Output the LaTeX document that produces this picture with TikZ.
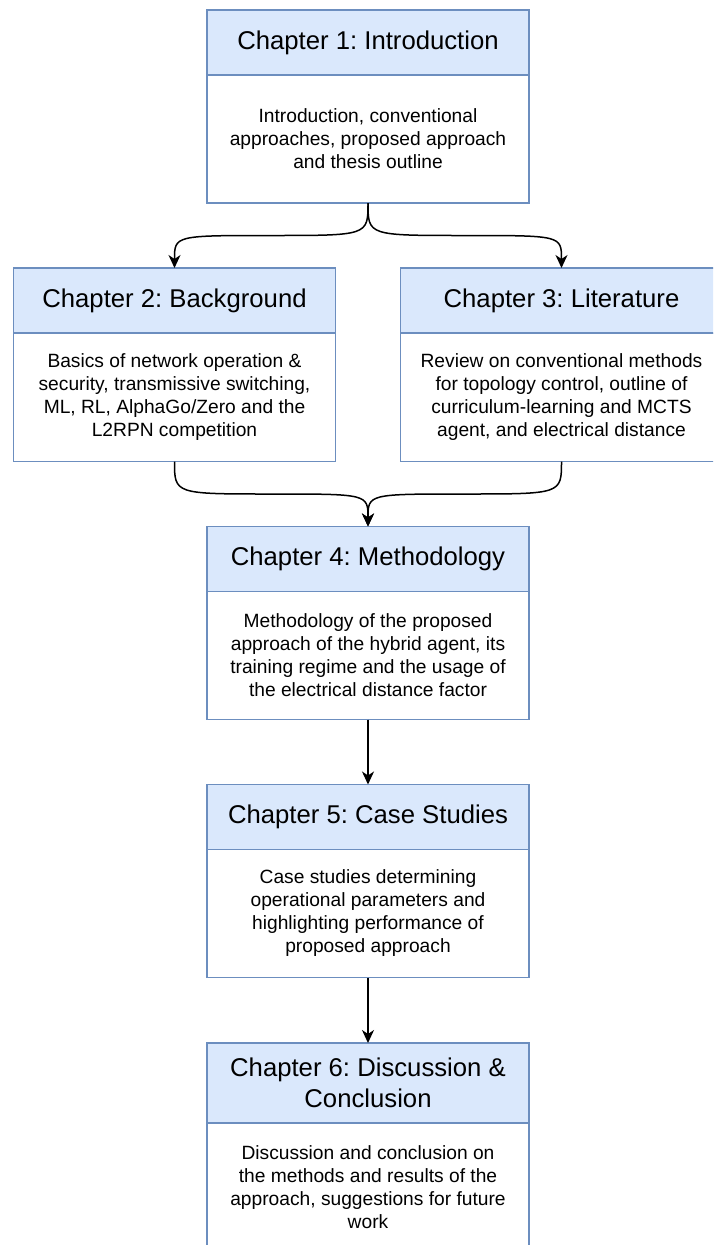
\documentclass[tikz,border=0pt]{standalone}
\usepackage{fontspec}
\setmainfont{Liberation Sans}
\usetikzlibrary{arrows.meta,calc}
\definecolor{hdrfill}{HTML}{DAE8FC}
\definecolor{hdrline}{HTML}{6C8EBF}
\frenchspacing
\begin{document}
\begin{tikzpicture}[x=1pt,y=-1pt,
  box/.style={draw=hdrline, line width=1.3pt, minimum width=322pt,
              inner sep=0pt, outer sep=0pt, align=center},
  head/.style={box, fill=hdrfill, minimum height=65pt,
               font=\fontsize{25.7}{30.8}\selectfont},
  body/.style={box, fill=white, minimum height=128pt,
               font=\fontsize{19.2}{23}\selectfont},
  link/.style={line width=1.5pt, -{Stealth[length=13pt,width=12pt,inset=4pt]}}]
\clip (0,0) rectangle (713,1245);
\fill[white] (0,0) rectangle (713,1245);

% Chapter 1
\node[head] (h1) at (368,42.5) {Chapter 1: Introduction};
\node[body] (b1) at (368,139) {Introduction, conventional\\approaches, proposed approach\\and thesis outline};

% Chapter 2
\node[head] (h2) at (174.5,300.5) {Chapter 2: Background};
\node[body] (b2) at (174.5,397.5) {Basics of network operation \&\\security, transmissive switching,\\ML, RL, AlphaGo/Zero and the\\L2RPN competition};

% Chapter 3
\node[head] (h3) at (561.5,300.5) {Chapter 3: Literature};
\node[body] (b3) at (561.5,397.5) {Review on conventional methods\\for topology control, outline of\\curriculum-learning and MCTS\\agent, and electrical distance};

% Chapter 4
\node[head] (h4) at (368,559) {Chapter 4: Methodology};
\node[body] (b4) at (368,655.5) {Methodology of the proposed\\approach of the hybrid agent, its\\training regime and the usage of\\the electrical distance factor};

% Chapter 5
\node[head] (h5) at (368,817) {Chapter 5: Case Studies};
\node[body] (b5) at (368,913.5) {Case studies determining\\operational parameters and\\highlighting performance of\\proposed approach};

% Chapter 6
\node[head, minimum height=80pt] (h6) at (368,1083) {Chapter 6: Discussion \&\\Conclusion};
\node[body, minimum height=129pt] (b6) at (368,1187.5) {Discussion and conclusion on\\the methods and results of the\\approach, suggestions for future\\work};

% curved links: Chapter 1 splits, Chapters 2 and 3 merge
\coordinate (m12) at ($(b1.south)!0.5!(h2.north)$);
\coordinate (m13) at ($(b1.south)!0.5!(h3.north)$);
\coordinate (m24) at ($(b2.south)!0.5!(h4.north)$);
\coordinate (m34) at ($(b3.south)!0.5!(h4.north)$);
\draw[link] (b1.south) .. controls (b1.south |- m12) .. (m12)
            .. controls (h2.north |- m12) .. (h2.north);
\draw[link] (b1.south) .. controls (b1.south |- m13) .. (m13)
            .. controls (h3.north |- m13) .. (h3.north);
\draw[link] (b2.south) .. controls (b2.south |- m24) .. (m24)
            .. controls (h4.north |- m24) .. (h4.north);
\draw[link] (b3.south) .. controls (b3.south |- m34) .. (m34)
            .. controls (h4.north |- m34) .. (h4.north);

% straight links
\draw[link] (b4.south) -- (h5.north);
\draw[link] (b5.south) -- (h6.north);
\end{tikzpicture}
\end{document}
